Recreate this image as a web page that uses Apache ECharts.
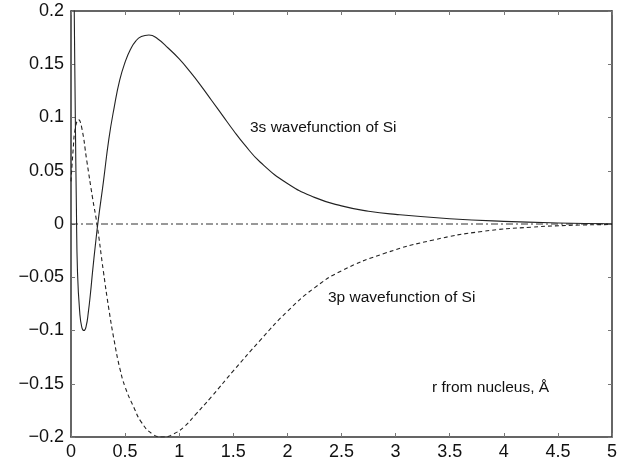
<!DOCTYPE html>
<html>
<head>
<meta charset="utf-8">
<script src="https://cdn.jsdelivr.net/npm/echarts@6/dist/echarts.min.js"></script>
<style>html,body{margin:0;padding:0;background:#fff}#c{width:628px;height:467px}</style>
</head>
<body>
<div id="c"></div>
<script>
// radius (Å) and 3s wavefunction values
const r3s = [0, 0.01, 0.02, 0.03, 0.04, 0.05, 0.06, 0.08, 0.10, 0.12, 0.14, 0.16, 0.18, 0.20, 0.225, 0.25, 0.30, 0.35, 0.40, 0.45, 0.50, 0.55, 0.60, 0.65, 0.72, 0.80, 0.90, 1.0, 1.1, 1.2, 1.3, 1.4, 1.5, 1.6, 1.75, 2.0, 2.25, 2.5, 2.75, 3.0, 3.5, 4.0, 4.5, 5.0];
const psi3s = [0.6, 0.42, 0.3, 0.2, 0.1, 0.015, -0.045, -0.082, -0.097, -0.1, -0.096, -0.083, -0.065, -0.044, -0.02, 0.002, 0.040, 0.080, 0.110, 0.135, 0.152, 0.164, 0.172, 0.176, 0.1775, 0.174, 0.165, 0.155, 0.143, 0.130, 0.116, 0.102, 0.088, 0.075, 0.058, 0.038, 0.025, 0.017, 0.012, 0.009, 0.005, 0.0025, 0.001, 0.0003];
// radius (Å) and 3p wavefunction values
const r3p = [0, 0.02, 0.04, 0.07, 0.10, 0.145, 0.20, 0.24, 0.30, 0.35, 0.40, 0.45, 0.50, 0.58, 0.65, 0.75, 0.85, 0.95, 1.05, 1.15, 1.3, 1.5, 1.75, 2.0, 2.25, 2.5, 2.9, 3.35, 3.8, 4.25, 4.7, 5.0];
const psi3p = [0.04, 0.07, 0.09, 0.098, 0.09, 0.06, 0.024, 0.0, -0.045, -0.08, -0.11, -0.135, -0.153, -0.172, -0.186, -0.197, -0.2, -0.197, -0.19, -0.179, -0.162, -0.138, -0.109, -0.082, -0.060, -0.044, -0.0275, -0.015, -0.007, -0.003, -0.001, -0.0005];
// zero reference line
const zeroR = [0, 5];
const zeroV = [0, 0];
const xRange = [0, 5];
const yRange = [-0.2, 0.2];

const annotations = [
  {text: '3s wavefunction of Si', left: 250, top: 120},
  {text: '3p wavefunction of Si', left: 328, top: 290},
  {text: 'r from nucleus, Å', left: 432, top: 380}
];

const zip = (a, b) => a.map((x, i) => [x, b[i]]);
const fmt = v => String(parseFloat(v.toFixed(2))).replace('-', '\u2212');
const FONT = '"Liberation Sans", Arial, Helvetica, sans-serif';
const axisCol = '#333';

const baseX = {
  type: 'value', min: xRange[0], max: xRange[1], interval: 0.5,
  axisLine: {show: true, onZero: false, lineStyle: {color: axisCol, width: 1.5}},
  axisTick: {show: true, inside: true, length: 4, lineStyle: {color: '#777'}},
  splitLine: {show: false}
};
const baseY = {
  type: 'value', min: yRange[0], max: yRange[1], interval: 0.05,
  axisLine: {show: true, onZero: false, lineStyle: {color: axisCol, width: 1.5}},
  axisTick: {show: true, inside: true, length: 4, lineStyle: {color: '#777'}},
  splitLine: {show: false}
};

const chart = echarts.init(document.getElementById('c'), null, {renderer: 'canvas'});
chart.setOption({
  animation: false,
  backgroundColor: '#fff',
  grid: {left: 71, right: 16, top: 11, bottom: 30, containLabel: false},
  xAxis: [
    Object.assign({}, baseX, {position: 'bottom', axisLabel: {show: true, color: '#111', fontSize: 18, fontFamily: FONT, margin: 6, formatter: fmt}}),
    Object.assign({}, baseX, {position: 'top', axisLabel: {show: false}})
  ],
  yAxis: [
    Object.assign({}, baseY, {position: 'left', axisLabel: {show: true, color: '#111', fontSize: 18, fontFamily: FONT, margin: 7, formatter: fmt}}),
    Object.assign({}, baseY, {position: 'right', axisLabel: {show: false}})
  ],
  graphic: annotations.map(a => ({
    type: 'text', left: a.left, top: a.top,
    style: {text: a.text, fill: '#111', font: '15.5px ' + FONT}
  })),
  series: [
    {
      type: 'line', data: zip(zeroR, zeroV), symbol: 'none', silent: true,
      lineStyle: {color: '#333', width: 1, type: [7, 3, 2, 3]}
    },
    {
      type: 'line', data: zip(r3s, psi3s), symbol: 'none', smooth: 0.5, clip: true,
      lineStyle: {color: '#222', width: 1.1, type: 'solid'}
    },
    {
      type: 'line', data: zip(r3p, psi3p), symbol: 'none', smooth: 0.5, clip: true,
      lineStyle: {color: '#222', width: 1.1, type: [4, 3]}
    }
  ]
});
</script>
</body>
</html>
